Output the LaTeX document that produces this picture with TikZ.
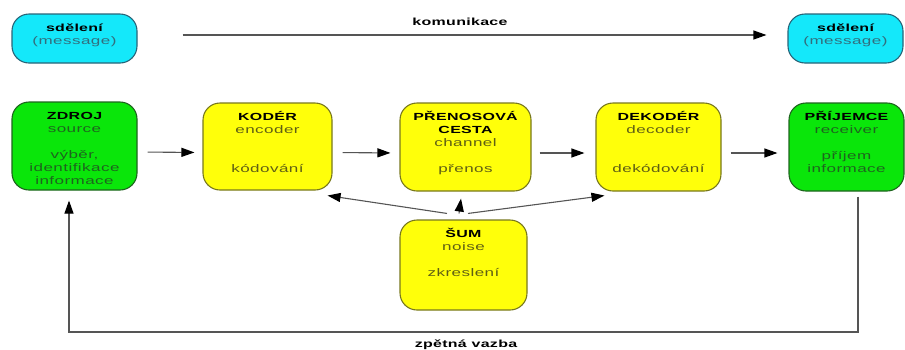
\documentclass[tikz,border=0pt]{standalone}
\usepackage{fontspec}
\setmainfont{Liberation Sans}
\newfontfamily\regf[FakeStretch=1.55,LetterSpace=4]{Liberation Sans}
\newfontfamily\boldf[FakeStretch=1.55,LetterSpace=3]{Liberation Sans}
\usetikzlibrary{arrows.meta}
\definecolor{cyanF}{RGB}{20,232,250}
\definecolor{cyanD}{RGB}{40,100,120}
\definecolor{greenF}{RGB}{10,230,10}
\definecolor{greenD}{RGB}{30,100,30}
\definecolor{yellowF}{RGB}{255,255,10}
\definecolor{yellowD}{RGB}{120,120,30}
\definecolor{ctext}{RGB}{50,110,125}
\definecolor{gtext}{RGB}{30,100,30}
\definecolor{ytext}{RGB}{95,95,20}
\definecolor{lineC}{RGB}{85,85,85}
\newcommand\ttl[1]{{\boldf\bfseries\fontsize{10.3}{13}\selectfont\color{black}#1}}
\tikzset{
  boxbase/.style={draw, rounded corners=17pt, line width=1.1pt, inner sep=0pt},
  cyanbox/.style={boxbase, fill=cyanF, draw=cyanD},
  greenbox/.style={boxbase, fill=greenF, draw=greenD},
  yellowbox/.style={boxbase, fill=yellowF, draw=yellowD},
  txt/.style={anchor=north, align=center, inner sep=0pt, font=\regf\fontsize{11}{13}\selectfont},
  lbl/.style={inner sep=0pt, font=\boldf\bfseries\fontsize{10.3}{13}\selectfont},
  arr/.style={draw=lineC, line width=1.1pt, -{Triangle[length=13pt,width=9pt,color=black]}}
}
\begin{document}
\begin{tikzpicture}[x=1pt,y=-1pt]
\useasboundingbox (0,0) rectangle (905,349);
% top row
\node[cyanbox, minimum width=125pt, minimum height=49pt] (msgL) at (74.5,38.5) {};
\node[txt, text=ctext] (msgLt) at ([yshift=-8.5pt]msgL.north) {\ttl{\strut sdělení}\\(message)};
\node[cyanbox, minimum width=115pt, minimum height=49pt] (msgR) at (845.5,38.5) {};
\node[txt, text=ctext] (msgRt) at ([yshift=-8.5pt]msgR.north) {\ttl{\strut sdělení}\\(message)};
\draw[arr, shorten <=45pt, shorten >=21pt] ([yshift=3.5pt]msgL.east) -- ([yshift=3.5pt]msgR.west);
\node[lbl] (kom) at (460,22) {komunikace};
% main row
\node[greenbox, minimum width=125pt, minimum height=88pt] (zdroj) at (74.5,146) {};
\node[txt, text=gtext] (zdrojt) at ([yshift=-8.5pt]zdroj.north) {\ttl{\strut ZDROJ}\\source\\[13pt]výběr,\\identifikace\\informace};
\node[yellowbox, minimum width=129pt, minimum height=87pt] (koder) at (267.5,146.5) {};
\node[txt, text=ytext] (kodert) at ([yshift=-8.5pt]koder.north) {\ttl{\strut KODÉR}\\encoder\\[26pt]kódování};
\node[yellowbox, minimum width=131pt, minimum height=88pt] (prenos) at (465.5,147) {};
\node[txt, text=ytext] (prenost) at ([yshift=-8.5pt]prenos.north) {\ttl{\strut PŘENOSOVÁ}\\\ttl{CESTA}\\channel\\[13pt]přenos};
\node[yellowbox, minimum width=125pt, minimum height=88pt] (dekoder) at (658.5,147) {};
\node[txt, text=ytext] (dekodert) at ([yshift=-8.5pt]dekoder.north) {\ttl{\strut DEKODÉR}\\decoder\\[26pt]dekódování};
\node[greenbox, minimum width=115pt, minimum height=88pt] (prijemce) at (846.5,147) {};
\node[txt, text=gtext] (prijemcet) at ([yshift=-8.5pt]prijemce.north) {\ttl{\strut PŘÍJEMCE}\\receiver\\[13pt]příjem\\informace};
% noise
\node[yellowbox, minimum width=127pt, minimum height=90pt] (sum) at (463.5,265) {};
\node[txt, text=ytext] (sumt) at ([yshift=-8.5pt]sum.north) {\ttl{\strut ŠUM}\\noise\\[13pt]zkreslení};
% row arrows
\draw[arr, shorten <=10pt, shorten >=8pt] ([yshift=-6pt]zdroj.east) -- ([yshift=-6pt]koder.west);
\draw[arr, shorten <=10pt, shorten >=9pt] ([yshift=-6pt]koder.east) -- ([yshift=-6pt]prenos.west);
\draw[arr, shorten <=8pt, shorten >=11pt] ([yshift=-6pt]prenos.east) -- ([yshift=-6pt]dekoder.west);
\draw[arr, shorten <=9pt, shorten >=11pt] ([yshift=-6pt]dekoder.east) -- ([yshift=-6pt]prijemce.west);
% noise arrows
\coordinate (n1s) at ([shift={(-16.5pt,6pt)}]sum.north);
\coordinate (n1e) at ([shift={(-5pt,-5pt)}]koder.south east);
\coordinate (n2s) at ([shift={(-4.5pt,6pt)}]sum.north);
\coordinate (n2e) at ([shift={(-4.5pt,-7pt)}]prenos.south);
\coordinate (n3s) at ([shift={(4.5pt,6pt)}]sum.north);
\coordinate (n3e) at ([shift={(9pt,-4pt)}]dekoder.south west);
\draw[arr] (n1s) -- (n1e);
\draw[arr] (n2s) -- (n2e);
\draw[arr] (n3s) -- (n3e);
% feedback
\coordinate (fbs) at ([shift={(11.5pt,-5pt)}]prijemce.south);
\coordinate (fbe) at ([shift={(-5.5pt,-10pt)}]zdroj.south);
\coordinate (fbb) at (0,332);
\draw[arr] (fbs) -- (fbs |- fbb) -- (fbe |- fbb) -- (fbe);
\node[lbl] (zv) at (466,345) {zpětná vazba};
\end{tikzpicture}
\end{document}
